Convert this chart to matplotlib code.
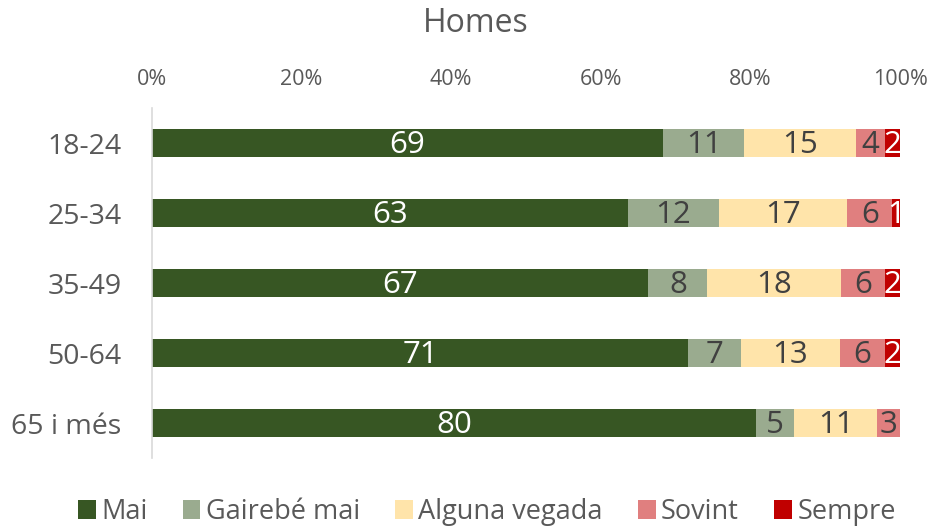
import matplotlib.pyplot as plt
import numpy as np

plt.rcParams['font.family'] = ['Open Sans', 'DejaVu Sans']

# age groups, top to bottom
groups = ['18-24', '25-34', '35-49', '50-64', '65 i més']

# answers per group (rows don't sum exactly to 100, so bars are normalised)
mai = [69, 63, 67, 71, 80]
gairebe_mai = [11, 12, 8, 7, 5]
alguna_vegada = [15, 17, 18, 13, 11]
sovint = [4, 6, 6, 6, 3]
sempre = [2, 1, 2, 2, 0]

series_names = ['Mai', 'Gairebé mai', 'Alguna vegada', 'Sovint', 'Sempre']
colors = ['#375623', '#9aab8f', '#ffe4aa', '#e07f7f', '#c00000']
text_colors = ['white', '#404040', '#404040', '#404040', 'white']

series = np.array([mai, gairebe_mai, alguna_vegada, sovint, sempre], dtype=float)
totals = series.sum(axis=0)
shares = series / totals * 100

fig = plt.figure(figsize=(9.3, 5.27), dpi=100)
ax = fig.add_axes([152/930, 1 - 458/527, 748/930, 350/527])

y = np.arange(len(groups))
left = np.zeros(len(groups))
for i, name in enumerate(series_names):
    bars = ax.barh(y, shares[i], left=left, height=0.4, color=colors[i], label=name)
    for j, b in enumerate(bars):
        if series[i][j] > 0:
            ax.text(left[j] + shares[i][j] / 2, y[j] + 0.03, f'{int(series[i][j])}',
                    ha='center', va='center', fontsize=22.5, color=text_colors[i])
    left += shares[i]

ax.set_xlim(0, 100)
ax.set_ylim(len(groups) - 0.5, -0.5)
ax.set_yticks(y)
ax.set_yticklabels(groups, fontsize=20.5, color='#595959')
ax.xaxis.tick_top()
ax.set_xticks(np.arange(0, 101, 20))
ax.set_xticklabels([f'{v}%' for v in range(0, 101, 20)], fontsize=15.5, color='#595959')
ax.tick_params(length=0)
ax.tick_params(axis='x', pad=13)
ax.tick_params(axis='y', pad=22)
for s in ['top', 'right', 'bottom']:
    ax.spines[s].set_visible(False)
ax.spines['left'].set_color('#d9d9d9')
ax.spines['left'].set_linewidth(1.2)

fig.text(476/930, 1 - 24/527, 'Homes', ha='center', va='center', fontsize=23, color='#595959')

fig.legend(loc='center', bbox_to_anchor=(487/930, 1 - 512/527), ncol=5, frameon=False,
           fontsize=19.5, labelcolor='#595959', handlelength=0.65, handleheight=0.65,
           handletextpad=0.2, columnspacing=1.3)

fig.savefig('out.png', dpi=100)
